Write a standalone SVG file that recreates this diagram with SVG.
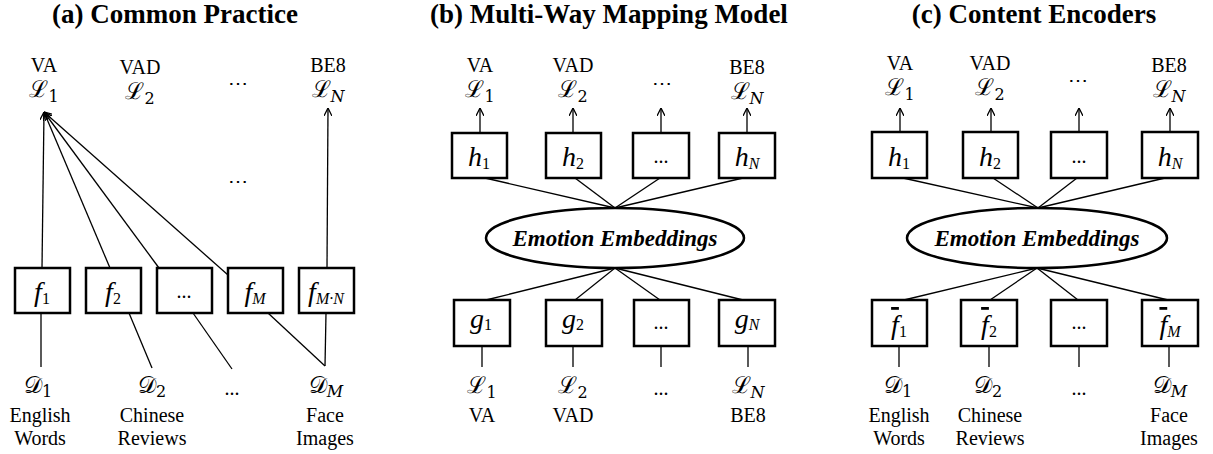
<svg xmlns="http://www.w3.org/2000/svg" width="1213" height="454" viewBox="0 0 1213 454">
<style>
text{font-family:'Liberation Serif','Times New Roman',serif;fill:#000;text-anchor:middle}
.title{font-weight:bold;font-size:27px}
.lbl{font-size:20px}
.math{font-family:'DejaVu Serif','Liberation Serif',serif;font-size:23px}
.mi{font-style:italic;font-size:28px}
.sub{font-size:16px}
.dots{font-size:20px}
.box{fill:#fff;stroke:#000;stroke-width:2.5}
.ell{fill:#fff;stroke:#000;stroke-width:2.5}
.emb{font-weight:bold;font-style:italic;font-size:23px}
.ln{stroke:#000;stroke-width:1.3;fill:none}
.ar{stroke:#000;stroke-width:1.3;fill:none;marker-end:url(#arr)}
</style>
<defs>
<marker id="arr" viewBox="0 0 10 10" refX="10" refY="5" markerWidth="8" markerHeight="8" markerUnits="userSpaceOnUse" orient="auto">
<path d="M0,0 L10,5 L0,10" fill="none" stroke="#000" stroke-width="1.6"/>
</marker>
</defs>

<text class="title" x="175" y="23">(a) Common Practice</text>
<text class="title" x="609" y="23">(b) Multi-Way Mapping Model</text>
<text class="title" x="1034" y="23">(c) Content Encoders</text>

<g id="connectors">
<line class="ar" x1="42" y1="268" x2="44" y2="112"/>
<line class="ar" x1="110" y1="268" x2="44" y2="112"/>
<line class="ar" x1="159" y1="268" x2="44" y2="112"/>
<line class="ar" x1="228" y1="275" x2="44" y2="112"/>
<line class="ar" x1="327" y1="268" x2="328" y2="108"/>
<line class="ln" x1="41" y1="313" x2="41" y2="367"/>
<line class="ln" x1="129" y1="313" x2="152" y2="368"/>
<line class="ln" x1="193" y1="313" x2="232" y2="369"/>
<line class="ln" x1="268" y1="313" x2="325" y2="366"/>
<line class="ln" x1="326" y1="313" x2="325" y2="366"/>
<line class="ar" x1="480" y1="133" x2="480" y2="108"/>
<line class="ar" x1="573" y1="133" x2="573" y2="108"/>
<line class="ar" x1="661" y1="133" x2="661" y2="108"/>
<line class="ar" x1="747" y1="133" x2="747" y2="108"/>
<line class="ln" x1="485" y1="178" x2="615" y2="208"/>
<line class="ln" x1="575" y1="178" x2="615" y2="208"/>
<line class="ln" x1="660" y1="178" x2="615" y2="208"/>
<line class="ln" x1="743" y1="178" x2="615" y2="208"/>
<line class="ln" x1="615" y1="268" x2="486" y2="300"/>
<line class="ln" x1="615" y1="268" x2="575" y2="300"/>
<line class="ln" x1="615" y1="268" x2="660" y2="300"/>
<line class="ln" x1="615" y1="268" x2="743" y2="300"/>
<line class="ln" x1="482" y1="346" x2="482" y2="367"/>
<line class="ln" x1="573" y1="346" x2="573" y2="367"/>
<line class="ln" x1="661" y1="346" x2="661" y2="367"/>
<line class="ln" x1="748" y1="346" x2="748" y2="367"/>
<line class="ar" x1="900" y1="132" x2="900" y2="108"/>
<line class="ar" x1="991" y1="132" x2="991" y2="108"/>
<line class="ar" x1="1079" y1="132" x2="1079" y2="108"/>
<line class="ar" x1="1170" y1="132" x2="1170" y2="108"/>
<line class="ln" x1="903" y1="178" x2="1038" y2="208"/>
<line class="ln" x1="993" y1="178" x2="1038" y2="208"/>
<line class="ln" x1="1077" y1="178" x2="1038" y2="208"/>
<line class="ln" x1="1165" y1="178" x2="1038" y2="208"/>
<line class="ln" x1="1037" y1="268" x2="904" y2="300"/>
<line class="ln" x1="1037" y1="268" x2="990" y2="300"/>
<line class="ln" x1="1037" y1="268" x2="1078" y2="300"/>
<line class="ln" x1="1037" y1="268" x2="1168" y2="300"/>
<line class="ln" x1="899" y1="346" x2="899" y2="367"/>
<line class="ln" x1="989" y1="346" x2="989" y2="367"/>
<line class="ln" x1="1079" y1="346" x2="1079" y2="367"/>
<line class="ln" x1="1169" y1="346" x2="1169" y2="367"/>
</g>

<g id="a-L1"><text class="lbl" x="44" y="72">VA</text><text class="math" x="44" y="97">ℒ<tspan class="sub" dy="5">1</tspan></text></g>
<g id="a-L2"><text class="lbl" x="140" y="74">VAD</text><text class="math" x="140" y="99">ℒ<tspan class="sub" dy="5">2</tspan></text></g>
<g id="a-Ldots"><text class="dots" x="238" y="90">⋯</text></g>
<g id="a-LN"><text class="lbl" x="328" y="72">BE8</text><text class="math" x="328" y="97">ℒ<tspan class="sub" font-style="italic" dy="5">N</tspan></text></g>
<g id="a-middots"><text class="dots" x="238" y="188">⋯</text></g>
<g id="a-f1"><rect class="box" x="15" y="268" width="55" height="45"/><text class="mi" x="42" y="301">f<tspan class="sub" font-style="normal" dy="3">1</tspan></text></g>
<g id="a-f2"><rect class="box" x="86" y="268" width="55" height="45"/><text class="mi" x="113" y="301">f<tspan class="sub" font-style="normal" dy="3">2</tspan></text></g>
<g id="a-fdots"><rect class="box" x="157" y="268" width="55" height="45"/><text class="dots" x="184" y="298">...</text></g>
<g id="a-fM"><rect class="box" x="228" y="268" width="55" height="45"/><text class="mi" x="255" y="301">f<tspan class="sub" dy="3">M</tspan></text></g>
<g id="a-fMN"><rect class="box" x="299" y="268" width="55" height="45"/><text class="mi" x="326" y="301">f<tspan class="sub" dy="3">M·N</tspan></text></g>
<g id="a-D1"><text class="math" x="38" y="393">𝒟<tspan class="sub" dy="4">1</tspan></text><text class="lbl" x="40" y="422">English</text><text class="lbl" x="40" y="445">Words</text></g>
<g id="a-D2"><text class="math" x="152" y="393">𝒟<tspan class="sub" dy="4">2</tspan></text><text class="lbl" x="152" y="422">Chinese</text><text class="lbl" x="152" y="445">Reviews</text></g>
<g id="a-Ddots"><text class="dots" x="232" y="395">...</text></g>
<g id="a-DM"><text class="math" x="326" y="393">𝒟<tspan class="sub" font-style="italic" dy="4">M</tspan></text><text class="lbl" x="325" y="422">Face</text><text class="lbl" x="325" y="445">Images</text></g>

<g id="b-L1"><text class="lbl" x="480" y="72">VA</text><text class="math" x="480" y="97">ℒ<tspan class="sub" dy="5">1</tspan></text></g>
<g id="b-L2"><text class="lbl" x="573" y="72">VAD</text><text class="math" x="573" y="97">ℒ<tspan class="sub" dy="5">2</tspan></text></g>
<g id="b-Ldots"><text class="dots" x="662" y="90">⋯</text></g>
<g id="b-LN"><text class="lbl" x="747" y="74">BE8</text><text class="math" x="747" y="99">ℒ<tspan class="sub" font-style="italic" dy="5">N</tspan></text></g>
<g id="b-h1"><rect class="box" x="452" y="133" width="55" height="45"/><text class="mi" x="479" y="166">h<tspan class="sub" font-style="normal" dy="3">1</tspan></text></g>
<g id="b-h2"><rect class="box" x="546" y="133" width="55" height="45"/><text class="mi" x="573" y="166">h<tspan class="sub" font-style="normal" dy="3">2</tspan></text></g>
<g id="b-hdots"><rect class="box" x="633" y="133" width="56" height="45"/><text class="dots" x="661" y="163">...</text></g>
<g id="b-hN"><rect class="box" x="719" y="133" width="56" height="45"/><text class="mi" x="747" y="166">h<tspan class="sub" dy="3">N</tspan></text></g>
<g id="b-emb"><ellipse class="ell" cx="615" cy="238" rx="129" ry="30"/><text class="emb" x="615" y="246">Emotion Embeddings</text></g>
<g id="b-g1"><rect class="box" x="454" y="300" width="56" height="46"/><text class="mi" x="481" y="328">g<tspan class="sub" font-style="normal" dy="2">1</tspan></text></g>
<g id="b-g2"><rect class="box" x="546" y="300" width="56" height="46"/><text class="mi" x="573" y="328">g<tspan class="sub" font-style="normal" dy="2">2</tspan></text></g>
<g id="b-gdots"><rect class="box" x="634" y="300" width="55" height="46"/><text class="dots" x="661" y="329">...</text></g>
<g id="b-gN"><rect class="box" x="719" y="300" width="56" height="46"/><text class="mi" x="747" y="328">g<tspan class="sub" dy="2">N</tspan></text></g>
<g id="b-bL1"><text class="math" x="482" y="393">ℒ<tspan class="sub" dy="5">1</tspan></text><text class="lbl" x="482" y="422">VA</text></g>
<g id="b-bL2"><text class="math" x="573" y="393">ℒ<tspan class="sub" dy="5">2</tspan></text><text class="lbl" x="573" y="422">VAD</text></g>
<g id="b-bdots"><text class="dots" x="661" y="395">...</text></g>
<g id="b-bLN"><text class="math" x="748" y="393">ℒ<tspan class="sub" font-style="italic" dy="5">N</tspan></text><text class="lbl" x="748" y="422">BE8</text></g>

<g id="c-L1"><text class="lbl" x="900" y="70">VA</text><text class="math" x="900" y="95">ℒ<tspan class="sub" dy="5">1</tspan></text></g>
<g id="c-L2"><text class="lbl" x="990" y="70">VAD</text><text class="math" x="990" y="95">ℒ<tspan class="sub" dy="5">2</tspan></text></g>
<g id="c-Ldots"><text class="dots" x="1078" y="87">⋯</text></g>
<g id="c-LN"><text class="lbl" x="1169" y="72">BE8</text><text class="math" x="1169" y="97">ℒ<tspan class="sub" font-style="italic" dy="5">N</tspan></text></g>
<g id="c-h1"><rect class="box" x="872" y="132" width="55" height="46"/><text class="mi" x="899" y="166">h<tspan class="sub" font-style="normal" dy="3">1</tspan></text></g>
<g id="c-h2"><rect class="box" x="963" y="132" width="55" height="46"/><text class="mi" x="990" y="166">h<tspan class="sub" font-style="normal" dy="3">2</tspan></text></g>
<g id="c-hdots"><rect class="box" x="1051" y="132" width="56" height="46"/><text class="dots" x="1079" y="163">...</text></g>
<g id="c-hN"><rect class="box" x="1142" y="132" width="56" height="46"/><text class="mi" x="1170" y="166">h<tspan class="sub" dy="3">N</tspan></text></g>
<g id="c-emb"><ellipse class="ell" cx="1037" cy="238" rx="130" ry="30"/><text class="emb" x="1037" y="246">Emotion Embeddings</text></g>
<g id="c-f1"><rect class="box" x="872" y="300" width="55" height="46"/><text class="mi" x="899" y="334"><tspan text-decoration="overline">f</tspan><tspan class="sub" font-style="normal" dy="3">1</tspan></text></g>
<g id="c-f2"><rect class="box" x="961" y="300" width="56" height="46"/><text class="mi" x="989" y="334"><tspan text-decoration="overline">f</tspan><tspan class="sub" font-style="normal" dy="3">2</tspan></text></g>
<g id="c-fdots"><rect class="box" x="1051" y="300" width="56" height="46"/><text class="dots" x="1079" y="329">...</text></g>
<g id="c-fM"><rect class="box" x="1142" y="300" width="56" height="46"/><text class="mi" x="1170" y="334"><tspan text-decoration="overline">f</tspan><tspan class="sub" dy="3">M</tspan></text></g>
<g id="c-D1"><text class="math" x="898" y="393">𝒟<tspan class="sub" dy="4">1</tspan></text><text class="lbl" x="899" y="422">English</text><text class="lbl" x="899" y="445">Words</text></g>
<g id="c-D2"><text class="math" x="988" y="393">𝒟<tspan class="sub" dy="4">2</tspan></text><text class="lbl" x="990" y="422">Chinese</text><text class="lbl" x="990" y="445">Reviews</text></g>
<g id="c-Ddots"><text class="dots" x="1079" y="395">...</text></g>
<g id="c-DM"><text class="math" x="1170" y="393">𝒟<tspan class="sub" font-style="italic" dy="4">M</tspan></text><text class="lbl" x="1169" y="422">Face</text><text class="lbl" x="1169" y="445">Images</text></g>
</svg>
